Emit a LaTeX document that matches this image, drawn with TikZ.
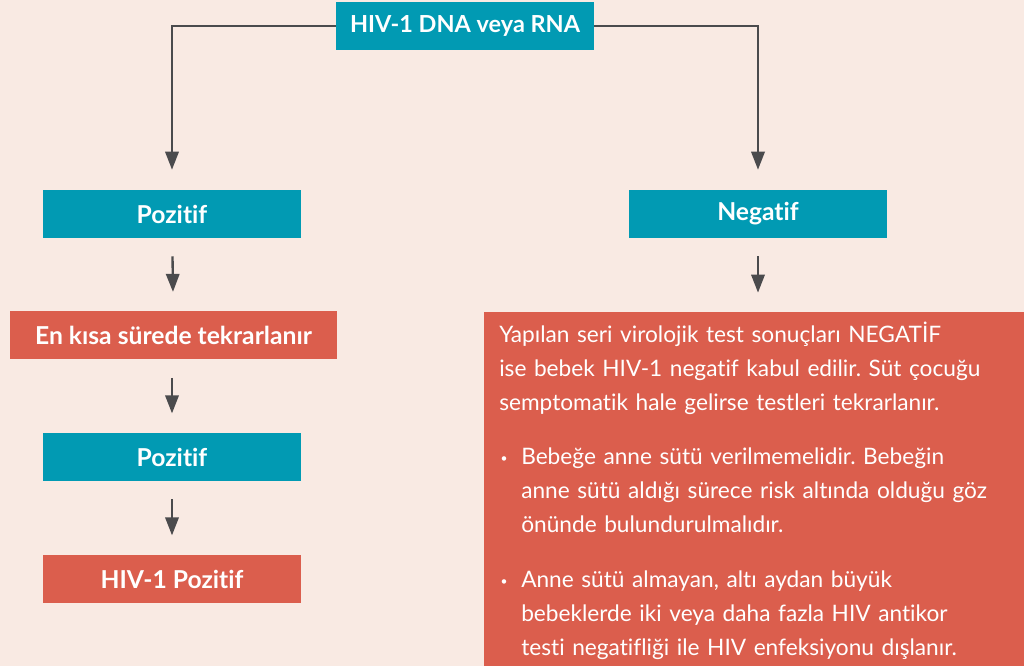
\documentclass[tikz,border=0pt]{standalone}
\usepackage{fontspec}
\setmainfont[Ligatures=NoCommon,RawFeature={-liga;-dlig}]{Lato}
\usetikzlibrary{arrows.meta,calc}
\definecolor{bgc}{HTML}{F9EAE3}
\definecolor{tealc}{HTML}{019AB3}
\definecolor{redc}{HTML}{DB5E4D}
\definecolor{arrc}{HTML}{4B4B4D}
\newcommand{\bulletitem}[1]{\noindent\makebox[16.5pt][l]{\hspace{1pt}\raisebox{1.5pt}{\fontsize{9pt}{9pt}\selectfont •}}\parbox[t]{390pt}{\strut#1\strut}\par}
\tikzset{
  tbox/.style={fill=tealc, text=white, inner sep=0pt, minimum width=193.5pt, minimum height=36pt, font=\bfseries\fontsize{18.5pt}{22pt}\selectfont},
  rbox/.style={tbox, fill=redc},
  arr/.style={draw=arrc, line width=1.75pt, -{Triangle[length=13.5pt,width=10pt]}},
  sarr/.style={arr, shorten <=13.5pt, shorten >=14.5pt}
}
\begin{document}
\frenchspacing
\begin{tikzpicture}[x=0.75pt,y=-0.75pt]
\fill[bgc] (0,0) rectangle (1024,666);
\useasboundingbox (0,0) rectangle (1024,666);
\node[tbox, font=\bfseries\fontsize{17.6pt}{22pt}\selectfont] (top) at (465,26) {HIV-1 DNA veya RNA};
\node[tbox] (poz1) at (172,214) {Pozitif};
\node[tbox] (neg) at (758,214) {Negatif};
\node[rbox, minimum width=245.25pt] (kisa) at (173.5,335.5) {En kısa sürede tekrarlanır};
\node[tbox] (poz2) at (172,457) {Pozitif};
\node[rbox] (hivpoz) at (172,579) {HIV-1 Pozitif};
\node[fill=redc, inner sep=0pt, minimum width=420pt, minimum height=270pt, anchor=north west] (big) at (484,312) {};
\node[anchor=north west, inner sep=0pt, text=white, text width=410pt, align=left,
  font=\fontsize{17pt}{25.5pt}\selectfont] (bigtext) at (499,318) {%
\parbox[t]{410pt}{\strut Yapılan seri virolojik test sonuçları NEGATİF\\
ise bebek HIV-1 negatif kabul edilir. Süt çocuğu\\
semptomatik hale gelirse testleri tekrarlanır.\strut}\par
\vspace{14.5pt}
\bulletitem{Bebeğe anne sütü verilmemelidir. Bebeğin\\
anne sütü aldığı sürece risk altında olduğu göz\\
önünde bulundurulmalıdır.}
\vspace{14.5pt}
\bulletitem{Anne sütü almayan, altı aydan büyük\\
bebeklerde iki veya daha fazla HIV antikor\\
testi negatifliği ile HIV enfeksiyonu dışlanır.}};
\draw[arr, shorten >=15pt] (top.west) -| (poz1.north);
\draw[arr, shorten >=15pt] (top.east) -| (neg.north);
\draw[sarr] (poz1) -- (kisa);
\draw[sarr] (kisa.south -| poz2.north) -- (poz2.north);
\draw[sarr] (poz2) -- (hivpoz);
\draw[sarr] (neg.south) -- (neg.south |- big.north);
\end{tikzpicture}
\end{document}
